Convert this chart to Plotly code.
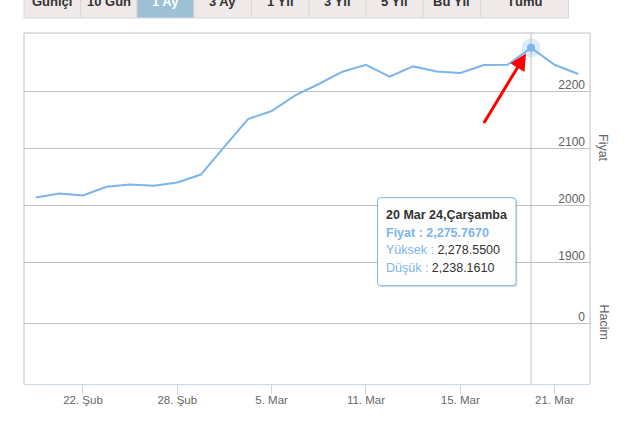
import plotly.graph_objects as go

# ---------------- data ----------------
dates = ["2024-02-20", "2024-02-21", "2024-02-22", "2024-02-23", "2024-02-26", "2024-02-27",
         "2024-02-28", "2024-02-29", "2024-03-01", "2024-03-04", "2024-03-05", "2024-03-06",
         "2024-03-07", "2024-03-08", "2024-03-11", "2024-03-12", "2024-03-13", "2024-03-14",
         "2024-03-15", "2024-03-18", "2024-03-19", "2024-03-20", "2024-03-21", "2024-03-22"]
prices = [2013.3, 2020.4, 2016.8, 2032.1, 2036.1, 2033.9, 2039.6, 2053.5, 2102.5, 2150.9,
          2164.9, 2192.3, 2212.3, 2233.9, 2246.1, 2225.4, 2243.2, 2234.4, 2231.6, 2245.6,
          2246.1, 2275.767, 2246.1, 2229.8]
x_tick_dates = ["2024-02-22", "2024-02-28", "2024-03-05", "2024-03-11", "2024-03-15", "2024-03-21"]
x_tick_labels = ["22. Şub", "28. Şub", "5. Mar", "11. Mar", "15. Mar", "21. Mar"]
price_ticks = [1900, 2000, 2100, 2200]
volume_ticks = [0]
buttons = ["Güniçi", "10 Gün", "1 Ay", "3 Ay", "1 Yıl", "3 Yıl", "5 Yıl", "Bu Yıl", "Tümü"]
selected_button = "1 Ay"
hover_index = 21
hover_title = "20 Mar 24,Çarşamba"
hover_high = 2278.55
hover_low = 2238.161

# ---------------- geometry helpers ----------------
W, H = 629, 445
L, R, T, B = 24, 590, 33, 384
PW, PH = R - L, B - T


def px(xp):
    return (xp - L) / PW


def py(yp):
    return (B - yp) / PH


LINE = "#7cb5ec"
GRID = "#c0c0c0"
FONT = "Liberation Sans"

fig = go.Figure()

fig.add_trace(go.Scatter(x=dates, y=prices, mode="lines",
                         line=dict(color=LINE, width=2), hoverinfo="skip", showlegend=False))
# hover halo + dot
fig.add_trace(go.Scatter(x=[dates[hover_index]], y=[prices[hover_index]], mode="markers",
                         marker=dict(size=19, color="rgba(124,181,236,0.25)", line=dict(width=0)),
                         hoverinfo="skip", showlegend=False))
fig.add_trace(go.Scatter(x=[dates[hover_index]], y=[prices[hover_index]], mode="markers",
                         marker=dict(size=8, color=LINE, line=dict(width=0)),
                         hoverinfo="skip", showlegend=False))
# invisible trace for volume axis
fig.add_trace(go.Scatter(x=[dates[0]], y=[0], yaxis="y2", mode="markers",
                         marker=dict(size=1, color="rgba(0,0,0,0)"), hoverinfo="skip", showlegend=False))

shapes = []
annotations = []

# frame lines (left, top, right)
for x0, y0, x1, y1 in [(0, 0, 0, 1), (0, 1, 1, 1), (1, 0, 1, 1)]:
    shapes.append(dict(type="line", xref="paper", yref="paper", x0=x0, y0=y0, x1=x1, y1=y1,
                       line=dict(color=GRID, width=1), layer="above"))
# crosshair
shapes.append(dict(type="line", xref="x", yref="paper", x0=dates[hover_index], x1=dates[hover_index],
                   y0=0, y1=1, line=dict(color=GRID, width=1), layer="below"))

# range selector buttons
btn_edges = [24, 80.5, 137, 194, 251.5, 309, 366, 423, 480.5, 568.5]
for i, name in enumerate(buttons):
    x0, x1 = btn_edges[i], btn_edges[i + 1]
    sel = name == selected_button
    shapes.append(dict(type="rect", xref="paper", yref="paper", x0=px(x0), x1=px(x1),
                       y0=py(18), y1=py(-6),
                       fillcolor="#9dc0d5" if sel else "#efe9e9",
                       line=dict(color="#dcd8d8", width=1), layer="above"))
    annotations.append(dict(xref="paper", yref="paper", x=px((x0 + x1) / 2), y=py(1.5),
                            text=f"<b>{name}</b>", showarrow=False, xanchor="center", yanchor="middle",
                            font=dict(family=FONT, size=13, color="#ffffff" if sel else "#333333")))

# tooltip box (shadow + rounded rect)
def rounded(x0, y0, x1, y1, r):
    rx, ry = r / PW, r / PH
    X0, X1, Y0, Y1 = px(x0), px(x1), py(y1), py(y0)
    return (f"M {X0+rx},{Y1} L {X1-rx},{Y1} Q {X1},{Y1} {X1},{Y1-ry} "
            f"L {X1},{Y0+ry} Q {X1},{Y0} {X1-rx},{Y0} L {X0+rx},{Y0} Q {X0},{Y0} {X0},{Y0+ry} "
            f"L {X0},{Y1-ry} Q {X0},{Y1} {X0+rx},{Y1} Z")


tb = (377.5, 197.7, 516, 285.7)
shapes.append(dict(type="path", xref="paper", yref="paper",
                   path=rounded(tb[0] + 1.5, tb[1] + 1.5, tb[2] + 1.5, tb[3] + 1.5, 3),
                   fillcolor="rgba(0,0,0,0.12)", line=dict(width=0), layer="above"))
shapes.append(dict(type="path", xref="paper", yref="paper", path=rounded(*tb, 3),
                   fillcolor="rgba(255,255,255,0.97)", line=dict(color=LINE, width=1), layer="above"))

def fmt(v):
    return f"{v:,.4f}"

tip_lines = [
    f"<b>{hover_title}</b>",
    f"<span style='color:{LINE}'><b>Fiyat : {fmt(prices[hover_index])}</b></span>",
    f"<span style='color:{LINE}'>Yüksek : </span>{fmt(hover_high)}",
    f"<span style='color:{LINE}'>Düşük : </span>{fmt(hover_low)}",
]
for txt, yc in zip(tip_lines, [215, 232.7, 250.2, 267.8]):
    annotations.append(dict(xref="paper", yref="paper", x=px(384), y=py(yc), text=txt,
                            showarrow=False, xanchor="left", yanchor="middle",
                            font=dict(family=FONT, size=12.5, color="#333333")))

# axis titles
for txt, yc in [("Fiyat", 147.5), ("Hacim", 322)]:
    annotations.append(dict(xref="paper", yref="paper", x=px(603.5), y=py(yc), text=txt,
                            showarrow=False, textangle=90, xanchor="center", yanchor="middle",
                            font=dict(family=FONT, size=12.5, color="#666666")))

# red arrow
annotations.append(dict(xref="paper", yref="paper", x=px(526), y=py(53.5), ax=-43, ay=71,
                        text="", showarrow=True, arrowhead=2, arrowsize=1.1, arrowwidth=3,
                        arrowcolor="#ff0000"))

fig.update_layout(
    width=W, height=H,
    margin=dict(l=L, r=W - R, t=T, b=H - B, pad=0),
    paper_bgcolor="white", plot_bgcolor="white",
    showlegend=False,
    shapes=shapes, annotations=annotations,
    xaxis=dict(type="category", range=[-0.5, len(dates) - 0.5],
               tickvals=x_tick_dates, ticktext=x_tick_labels,
               showgrid=False, zeroline=False,
               showline=True, linecolor="#ccd6eb", linewidth=1,
               ticks="outside", ticklen=9, tickcolor="#ccd6eb", tickwidth=1,
               ticklabelstandoff=-4,
               tickfont=dict(family=FONT, size=11.5, color="#666666")),
    yaxis=dict(range=[1686, 2301.8], side="right", tickvals=price_ticks,
               ticklabelposition="inside", ticklabelshift=-6, ticklabelstandoff=2,
               showgrid=True, gridcolor=GRID, gridwidth=1, zeroline=False, showline=False,
               ticks="", tickfont=dict(family=FONT, size=12, color="#606060")),
    yaxis2=dict(range=[-0.173, 0.827], overlaying="y", side="right", tickvals=volume_ticks,
                ticklabelposition="inside", ticklabelshift=-6, ticklabelstandoff=2,
                showgrid=True, gridcolor=GRID, gridwidth=1, zeroline=False, showline=False,
                ticks="", tickfont=dict(family=FONT, size=12, color="#606060")),
)

fig.write_html("out.html", config={"displayModeBar": False},
               post_script="document.body.style.margin='0px';document.body.style.overflow='hidden';")
